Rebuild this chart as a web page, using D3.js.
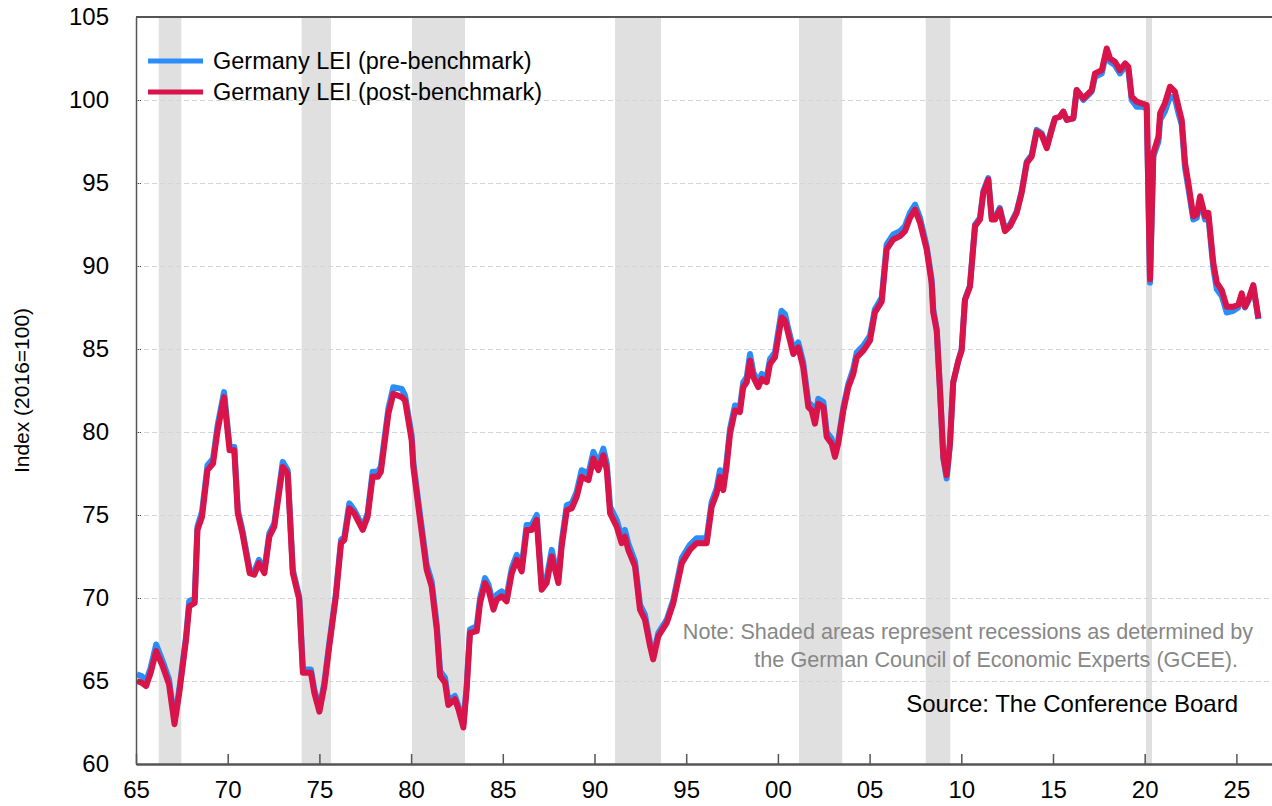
<!DOCTYPE html>
<html>
<head>
<meta charset="utf-8">
<script src="https://cdn.jsdelivr.net/npm/d3@7"></script>
<style>
  body { margin: 0; background: #fff; }
  text { font-family: "Liberation Sans", Arial, sans-serif; }
  .axis text { font-size: 24px; fill: #000; }
  .grid line { stroke: #d4d4d4; stroke-dasharray: 5,3; }
</style>
</head>
<body>
<script>
// decimal year of each reading
var dates = [
  1965.05, 1965.3, 1965.55, 1965.8, 1966.1, 1966.45, 1966.8, 1967.1, 1967.36, 1967.73, 1967.9,
  1968.2, 1968.35, 1968.6, 1968.9, 1969.2, 1969.45, 1969.8, 1970.1, 1970.36, 1970.55, 1970.8,
  1971.2, 1971.45, 1971.7, 1972.0, 1972.27, 1972.54, 1973.0, 1973.27, 1973.55, 1973.9,
  1974.1, 1974.54, 1974.72, 1975.0, 1975.27, 1975.54, 1975.9, 1976.18, 1976.36, 1976.63, 1976.9,
  1977.36, 1977.63, 1977.9, 1978.18, 1978.35, 1978.76, 1979.03, 1979.49, 1979.67,
  1980.03, 1980.12, 1980.49, 1980.85, 1981.12, 1981.4, 1981.58, 1981.85, 1982.03, 1982.39, 1982.58, 1982.85,
  1983.03, 1983.21, 1983.58, 1983.76, 1984.03, 1984.22, 1984.49, 1984.67, 1984.94, 1985.21, 1985.49, 1985.76,
  1986.03, 1986.3, 1986.58, 1986.85, 1986.94, 1987.12, 1987.39, 1987.67, 1987.85, 1988.03, 1988.21, 1988.49, 1988.76,
  1989.03, 1989.3, 1989.67, 1989.94, 1990.21, 1990.48, 1990.67, 1990.85, 1991.21, 1991.48, 1991.66, 1991.84,
  1992.21, 1992.48, 1992.75, 1993.03, 1993.2, 1993.48, 1993.94, 1994.3, 1994.76, 1995.2, 1995.57,
  1996.12, 1996.39, 1996.66, 1996.84, 1997.02, 1997.2, 1997.39, 1997.66, 1997.93, 1998.11, 1998.3, 1998.48, 1998.66, 1998.93,
  1999.12, 1999.39, 1999.57, 1999.84, 2000.2, 2000.39, 2000.57, 2000.84, 2001.11, 2001.38, 2001.66, 2001.84,
  2002.02, 2002.2, 2002.48, 2002.66, 2002.93, 2003.11, 2003.29, 2003.57, 2003.84, 2004.11, 2004.3, 2004.66,
  2005.02, 2005.29, 2005.66, 2005.93, 2006.29, 2006.66, 2006.93, 2007.2, 2007.48, 2007.75,
  2008.11, 2008.38, 2008.47, 2008.66, 2008.84, 2009.02, 2009.2, 2009.38, 2009.56, 2009.84,
  2010.02, 2010.2, 2010.47, 2010.75, 2011.02, 2011.2, 2011.47, 2011.66, 2011.84, 2012.1, 2012.38, 2012.66,
  2013.02, 2013.29, 2013.57, 2013.84, 2014.11, 2014.38, 2014.66, 2014.93, 2015.11, 2015.38, 2015.56, 2015.75,
  2016.11, 2016.29, 2016.66, 2017.11, 2017.29, 2017.66, 2017.93, 2018.11, 2018.38, 2018.65, 2018.93,
  2019.11, 2019.29, 2019.56, 2019.84, 2020.11, 2020.29, 2020.47, 2020.75, 2020.84, 2021.1, 2021.38, 2021.65, 2021.84,
  2022.02, 2022.2, 2022.38, 2022.65, 2022.84, 2023.02, 2023.29, 2023.47, 2023.65, 2023.74, 2023.93,
  2024.2, 2024.47, 2024.83, 2025.1, 2025.29, 2025.47, 2025.65, 2025.92, 2026.2
];

var postValues = [
  65.0, 64.9, 64.7, 65.5, 66.8, 65.9, 64.8, 62.4, 64.3, 67.5, 69.5,
  69.7, 74.1, 74.9, 77.7, 78.1, 80.1, 82.1, 78.9, 78.9, 75.1, 73.9,
  71.5, 71.4, 72.1, 71.5, 73.7, 74.3, 77.9, 77.5, 71.5, 69.9,
  65.5, 65.5, 64.3, 63.15, 64.7, 67.1, 70.1, 73.3, 73.5, 75.4, 75.1,
  74.1, 74.9, 77.3, 77.3, 77.6, 81.1, 82.3, 82.1, 81.9,
  79.5, 77.9, 74.7, 71.7, 70.7, 68.1, 65.3, 64.9, 63.55, 63.9, 63.3, 62.2,
  64.5, 67.9, 68.0, 69.7, 70.9, 70.5, 69.3, 69.9, 70.1, 69.8, 71.5, 72.3,
  71.6, 74.1, 74.1, 74.7, 73.3, 70.5, 70.9, 72.5, 71.7, 70.9, 73.1, 75.3, 75.4,
  76.1, 77.3, 77.1, 78.4, 77.7, 78.6, 77.7, 75.1, 74.3, 73.3, 73.7, 72.9,
  71.9, 69.3, 68.7, 67.1, 66.3, 67.7, 68.5, 69.7, 72.1, 72.9, 73.3,
  73.3, 75.5, 76.3, 77.3, 76.5, 77.9, 79.9, 81.3, 81.2, 82.7, 83.0, 84.3, 83.3, 82.7,
  83.2, 83.0, 84.1, 84.5, 86.9, 86.7, 85.9, 84.7, 85.1, 83.9, 81.5, 81.3,
  80.5, 81.7, 81.5, 79.7, 79.3, 78.5, 79.3, 81.3, 82.7, 83.5, 84.5, 84.9,
  85.5, 87.2, 87.85, 91.0, 91.6, 91.8, 92.1, 92.9, 93.4, 92.6,
  91.0, 89.0, 87.2, 86.1, 82.5, 78.5, 77.4, 79.3, 83.0, 84.3,
  84.9, 87.95, 88.75, 92.4, 92.8, 94.4, 95.2, 92.8, 92.8, 93.4, 92.1, 92.4,
  93.2, 94.4, 96.2, 96.6, 98.1, 97.9, 97.1, 98.2, 98.9, 99.0, 99.3, 98.8,
  98.9, 100.6, 100.1, 100.6, 101.6, 101.8, 103.1, 102.5, 102.3, 101.8, 102.2,
  102.0, 100.2, 99.9, 99.8, 99.7, 89.2, 96.8, 97.8, 99.2, 99.8, 100.8, 100.5, 99.6,
  98.8, 96.2, 95.0, 93.0, 93.1, 94.2, 93.0, 93.2, 91.2, 90.2, 89.0,
  88.55, 87.55, 87.55, 87.65, 88.35, 87.55, 87.95, 88.85, 86.85
];

var preValues = [
  65.4, 65.3, 65.0, 65.8, 67.2, 66.2, 65.1, 62.6, 64.5, 67.7, 69.8,
  70.0, 74.3, 75.2, 78.0, 78.4, 80.4, 82.4, 79.2, 79.1, 75.3, 74.1,
  71.7, 71.6, 72.3, 71.7, 73.9, 74.5, 78.2, 77.7, 71.7, 70.1,
  65.7, 65.7, 64.5, 63.3, 64.9, 67.3, 70.3, 73.5, 73.7, 75.7, 75.3,
  74.3, 75.1, 77.6, 77.6, 77.9, 81.4, 82.7, 82.6, 82.2,
  79.8, 78.2, 75.0, 72.0, 71.0, 68.4, 65.6, 65.2, 63.8, 64.1, 63.5, 62.4,
  64.7, 68.1, 68.3, 70.0, 71.2, 70.8, 69.6, 70.2, 70.4, 70.1, 71.8, 72.6,
  71.9, 74.4, 74.4, 75.0, 73.6, 70.8, 71.2, 72.9, 72.0, 71.2, 73.4, 75.6, 75.7,
  76.4, 77.7, 77.5, 78.8, 78.1, 79.0, 78.1, 75.5, 74.7, 73.7, 74.1, 73.3,
  72.2, 69.6, 69.0, 67.3, 66.5, 67.9, 68.7, 69.9, 72.4, 73.2, 73.6,
  73.6, 75.8, 76.6, 77.7, 76.8, 78.2, 80.2, 81.6, 81.5, 83.0, 83.3, 84.7, 83.6, 83.0,
  83.5, 83.3, 84.4, 84.8, 87.3, 87.1, 86.2, 85.0, 85.4, 84.2, 81.8, 81.6,
  80.8, 82.0, 81.8, 80.0, 79.6, 78.7, 79.5, 81.5, 82.9, 83.8, 84.8, 85.2,
  85.8, 87.4, 88.1, 91.3, 91.9, 92.1, 92.4, 93.2, 93.7, 92.9,
  91.2, 89.2, 87.4, 86.2, 82.5, 78.4, 77.2, 79.2, 83.0, 84.3,
  85.0, 88.0, 88.8, 92.5, 92.9, 94.5, 95.3, 92.9, 92.9, 93.5, 92.2, 92.5,
  93.3, 94.5, 96.3, 96.7, 98.2, 98.0, 97.2, 98.3, 98.9, 99.0, 99.3, 98.8,
  98.9, 100.6, 100.0, 100.5, 101.4, 101.6, 103.0, 102.3, 102.1, 101.6, 102.0,
  101.8, 100.0, 99.6, 99.6, 99.5, 89.0, 96.6, 97.5, 98.8, 99.3, 100.2, 100.1, 99.2,
  98.5, 95.9, 94.7, 92.8, 92.9, 94.0, 92.8, 93.0, 90.9, 89.9, 88.6,
  88.2, 87.2, 87.3, 87.5, 88.2, 87.5, 87.9, 88.8, 86.8
];

// GCEE recession periods (start, end)
var recessions = [
  [1966.24, 1967.47], [1974.03, 1975.63], [1980.05, 1982.94], [1991.12, 1993.63],
  [2001.15, 2003.51], [2008.06, 2009.4], [2020.07, 2020.4]
];

var yearTicks = [1965, 1970, 1975, 1980, 1985, 1990, 1995, 2000, 2005, 2010, 2015, 2020, 2025];
var valueTicks = [60, 65, 70, 75, 80, 85, 90, 95, 100, 105];
var gridTicks = [65, 70, 75, 80, 85, 90, 95, 100];

var seriesNames = ["Germany LEI (pre-benchmark)", "Germany LEI (post-benchmark)"];
var seriesColors = ["#2b8df7", "#d8144a"];

var w = 1272;
var h = 806;
var margin = {top: 17, bottom: 42, left: 136, right: 0};

var x = d3.scaleLinear()
        .domain([1965, 2027])
        .range([margin.left, margin.left + 62 * 18.34]);

var y = d3.scaleLinear()
        .domain([60, 105])
        .range([h - margin.bottom, margin.top]);

var svg = d3.select("body").append("svg")
          .attr("width", w)
          .attr("height", h);

// recession shading
svg.selectAll(".rec")
    .data(recessions)
    .enter()
    .append("rect")
      .attr("class", "rec")
      .attr("x", function(d){ return x(d[0]); })
      .attr("width", function(d){ return x(d[1]) - x(d[0]); })
      .attr("y", y(105))
      .attr("height", y(60) - y(105))
      .attr("fill", "#e0e0e0");

// dashed gridlines
svg.append("g")
    .attr("class", "grid")
    .attr("transform", "translate(" + margin.left + ",0)")
    .call(d3.axisLeft(y).tickValues(gridTicks).tickSize(-(w - margin.left)).tickFormat(""))
    .call(function(g){ g.select(".domain").remove(); });

// series lines, pre first so post sits on top
var line = d3.line()
    .x(function(d){ return x(d[0]); })
    .y(function(d){ return y(d[1]); });

var preData = dates.map(function(d, i){ return [d, preValues[i]]; });
var postData = dates.map(function(d, i){ return [d, postValues[i]]; });

svg.append("path")
    .datum(preData)
    .attr("d", line)
    .attr("fill", "none")
    .attr("stroke", seriesColors[0])
    .attr("stroke-width", 6)
    .attr("stroke-linejoin", "round");

svg.append("path")
    .datum(postData)
    .attr("d", line)
    .attr("fill", "none")
    .attr("stroke", seriesColors[1])
    .attr("stroke-width", 6)
    .attr("stroke-linejoin", "round");

// axes
var yAxis = d3.axisLeft(y)
    .tickValues(valueTicks)
    .tickSizeInner(-5)
    .tickSizeOuter(0)
    .tickPadding(27);

svg.append("g")
    .attr("class", "axis y-axis")
    .attr("transform", "translate(" + margin.left + ",0)")
    .call(yAxis);

svg.select(".y-axis .domain").attr("stroke", "#555").attr("stroke-width", 1.5);
svg.selectAll(".y-axis .tick line").attr("stroke", "#444").attr("stroke-dasharray", "1,1");

var xAxis = d3.axisBottom(x)
    .tickValues(yearTicks)
    .tickSizeInner(-10)
    .tickSizeOuter(0)
    .tickPadding(17)
    .tickFormat(function(d){ return d3.format("02d")(d % 100); });

svg.append("g")
    .attr("class", "axis x-axis")
    .attr("transform", "translate(0," + y(60) + ")")
    .call(xAxis);

svg.select(".x-axis .domain").attr("stroke", "#555").attr("stroke-width", 2.5);
svg.selectAll(".x-axis .tick line").attr("stroke", "#555").attr("stroke-width", 1.5);

// top border
svg.append("line")
    .attr("x1", margin.left).attr("x2", w)
    .attr("y1", y(105)).attr("y2", y(105))
    .attr("stroke", "#555")
    .attr("stroke-width", 2);

// y title
svg.append("text")
    .attr("transform", "translate(29," + ((y(60) + y(105)) / 2) + ") rotate(-90)")
    .attr("text-anchor", "middle")
    .style("font-size", "21px")
    .text("Index (2016=100)");

// legend
var legend = svg.selectAll(".legend")
    .data(seriesNames)
    .enter()
    .append("g")
      .attr("class", "legend")
      .attr("transform", function(d, i){ return "translate(148," + (61 + i * 31) + ")"; });

legend.append("line")
    .attr("x1", 0).attr("x2", 55)
    .attr("stroke", function(d, i){ return seriesColors[i]; })
    .attr("stroke-width", 5);

legend.append("text")
    .attr("x", 65)
    .attr("y", 8)
    .style("font-size", "23.5px")
    .text(function(d){ return d; });

// notes
svg.append("text")
    .attr("x", 1253).attr("y", 639)
    .attr("text-anchor", "end")
    .style("font-size", "21.6px")
    .attr("fill", "#878787")
    .text("Note: Shaded areas represent recessions as determined by");

svg.append("text")
    .attr("x", 1238).attr("y", 667)
    .attr("text-anchor", "end")
    .style("font-size", "21.6px")
    .attr("fill", "#878787")
    .text("the German Council of Economic Experts (GCEE).");

svg.append("text")
    .attr("x", 1238).attr("y", 712)
    .attr("text-anchor", "end")
    .style("font-size", "24px")
    .text("Source: The Conference Board");
</script>
</body>
</html>
